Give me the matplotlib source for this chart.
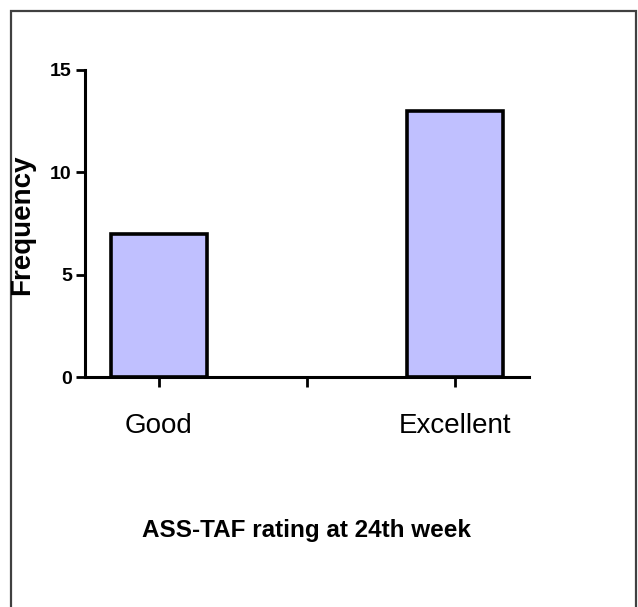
import numpy as np
import matplotlib
matplotlib.use("Agg")
import matplotlib.pyplot as plt
from matplotlib.patches import Rectangle

plt.rcParams['font.family'] = ['Liberation Sans', 'DejaVu Sans']

# data
categories = ['Good', '', 'Excellent']
frequency = [7, np.nan, 13]
yticks = [0, 5, 10, 15]

fig = plt.figure(figsize=(6.38, 6.07), dpi=100)
fig.patch.set_facecolor('white')

# outer frame (open at the bottom)
frame = Rectangle((11 / 638, -0.05), 625 / 638, 1.05 - 11 / 607,
                  transform=fig.transFigure, fill=False,
                  edgecolor='#404040', linewidth=1.6, clip_on=False)
fig.patches.append(frame)

ax = fig.add_axes([85 / 638, (607 - 377) / 607, 444 / 638, 307 / 607])

x = np.arange(len(categories))
ax.bar(x, frequency, width=0.65, color='#C0C0FF',
       edgecolor='black', linewidth=2.6)

ax.set_xlim(-0.5, 2.5)
ax.set_ylim(0, 15)
ax.set_yticks(yticks)
ax.set_yticklabels([str(v) for v in yticks], fontsize=14, fontweight='bold')
ax.set_xticks(x)
ax.set_xticklabels(categories, fontsize=20)

for s in ['top', 'right']:
    ax.spines[s].set_visible(False)
for s in ['left', 'bottom']:
    ax.spines[s].set_linewidth(2.2)

ax.tick_params(axis='y', direction='out', length=6.5, width=2, pad=3)
ax.tick_params(axis='x', direction='out', length=7, width=2, pad=19)

fig.text(22 / 638, 1 - 225 / 607, 'Frequency', rotation=90,
         ha='center', va='center', fontsize=20, fontweight='bold')
fig.text(306.5 / 638, 1 - 530 / 607, 'ASS-TAF rating at 24th week',
         ha='center', va='center', fontsize=17.5, fontweight='bold')

fig.savefig('out.png', dpi=100)
